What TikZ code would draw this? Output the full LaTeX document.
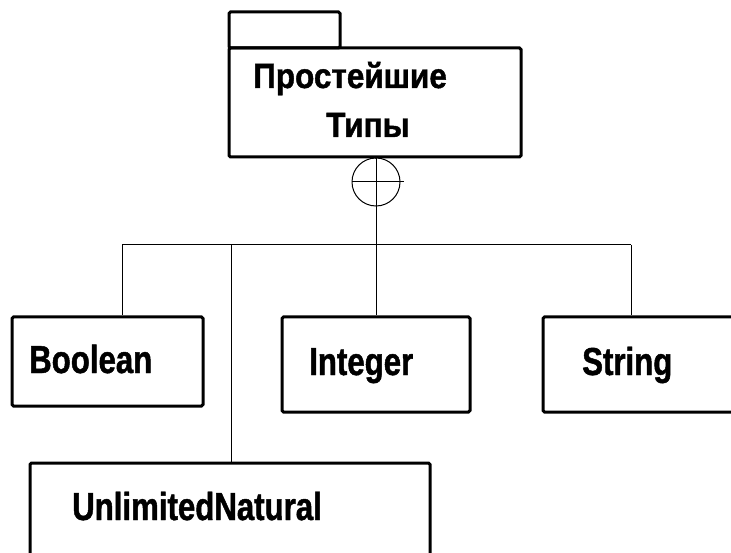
\documentclass[tikz,border=0pt]{standalone}
\usepackage{fontspec}
\newfontfamily\lblfont{Liberation Sans}[FakeStretch=0.80, FakeBold=1.2]
\newfontfamily\pkgfont{Liberation Sans}[FakeStretch=0.90, FakeBold=1.2]
\usetikzlibrary{positioning}

\tikzset{
  classbox/.style={draw=black, line width=3pt, rounded corners=1.5pt, inner sep=0pt},
  lbl/.style={font=\lblfont\bfseries\fontsize{39}{44}\selectfont, inner sep=0pt},
  pkglbl/.style={font=\pkgfont\bfseries\fontsize{35}{40}\selectfont, inner sep=0pt},
  wire/.style={draw=black, line width=1pt},
}

\begin{document}
\begin{tikzpicture}[x=1pt, y=-1pt]
  \useasboundingbox (0,0) rectangle (731,553);
  \clip (0,0) rectangle (731,553);

  % package with its tab
  \node[classbox, minimum width=111pt, minimum height=36pt] (tab) at (284.5,30) {};
  \node[classbox, minimum width=292pt, minimum height=109pt] (pkg) at (375,102.5) {};
  \node[pkglbl, anchor=base west] (pkgA) at (253,88) {Простейшие};
  \node[pkglbl, anchor=base west] (pkgB) at (326,137) {Типы};

  % containment circle
  \node[circle, draw=black, line width=1pt, minimum size=48pt, inner sep=0pt, fill=white] (plus) at (376,182) {};

  % classes
  \node[classbox, minimum width=191pt, minimum height=89pt] (bool) at (107.5,361.5) {};
  \node[lbl, anchor=base west] (boolT) at (29,373) {Boolean};

  \node[classbox, minimum width=188pt, minimum height=95pt] (int) at (376,364.5) {};
  \node[lbl, anchor=base west] (intT) at (309,375) {Integer};

  \node[classbox, minimum width=210pt, minimum height=95pt] (str) at (648,364.5) {};
  \node[lbl, anchor=base west] (strT) at (582,375) {String};

  \node[classbox, minimum width=400pt, minimum height=110pt] (unl) at (230,518) {};
  \node[lbl, anchor=base west] (unlT) at (72,520) {UnlimitedNatural};

  % bus junctions
  \coordinate (jb) at (122,245);
  \coordinate (ju) at (231,245);
  \coordinate (ji) at (376,245);
  \coordinate (js) at (631,245);

  % connectors
  \draw[wire] (pkg.south) -- (plus.north);
  \draw[wire] (plus.north) -- (plus.south);
  \draw[wire] (plus.west) -- ([xshift=3pt]plus.east);
  \draw[wire] (plus.south) -- (ji);
  \draw[wire] (jb) -- (js);
  \draw[wire] (jb) -- (jb |- bool.north);
  \draw[wire] (ju) -- (ju |- unl.north);
  \draw[wire] (ji) -- (int.north);
  \draw[wire] (js) -- (js |- str.north);
\end{tikzpicture}
\end{document}
